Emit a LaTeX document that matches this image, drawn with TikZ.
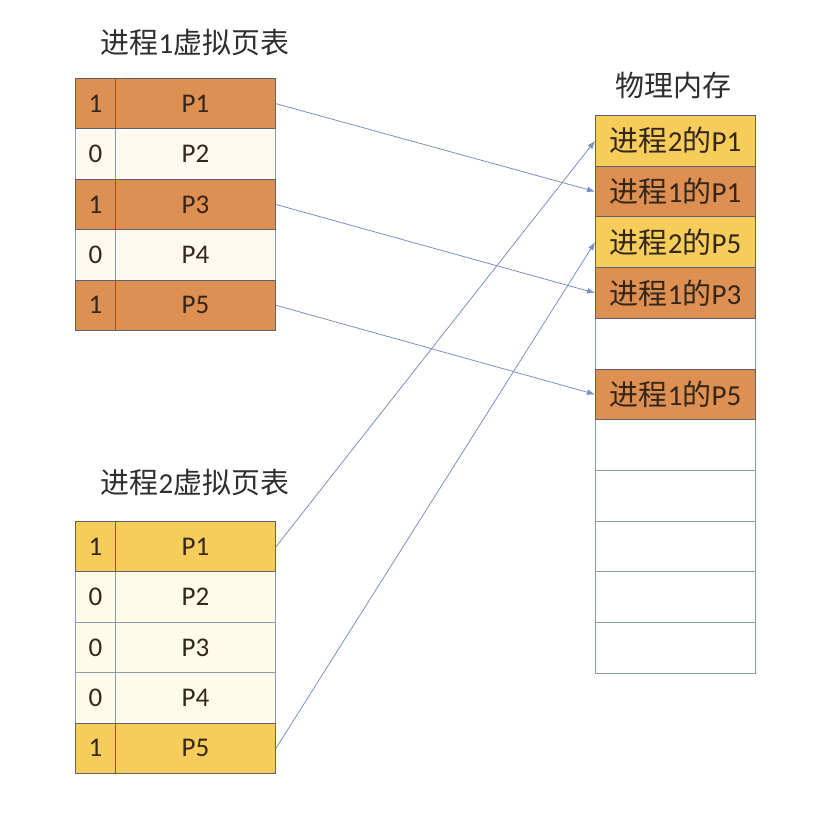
\documentclass[tikz,border=0pt]{standalone}
\usepackage{fontspec}
\setmainfont{Carlito}
\newfontfamily\cjk{Noto Sans CJK SC}
\newcommand{\zh}[1]{{\cjk #1}}
\usetikzlibrary{arrows.meta}
\definecolor{org}{HTML}{DE8F52}
\definecolor{yel}{HTML}{F6CD5A}
\definecolor{crm}{HTML}{FFFAF0}
\definecolor{crmb}{HTML}{FFFCE9}
\definecolor{bord}{HTML}{5C6272}
\definecolor{lbord}{HTML}{8C98B0}
\definecolor{arr}{HTML}{7B8FC4}
\definecolor{txt}{HTML}{33261A}
\definecolor{ttl}{HTML}{2E2E2E}
\tikzset{
  cell/.style={draw=bord, line width=1pt, minimum height=50.4pt, inner sep=0pt,
    anchor=north west, font=\fontsize{27}{31}\selectfont, text=txt},
  bitcell/.style={cell, minimum width=40pt},
  pgcell/.style={cell, minimum width=160pt},
  memcell/.style={cell, minimum width=160pt, minimum height=50.7pt,
    font=\fontsize{29}{33}\selectfont},
  light/.style={draw=lbord},
  ttlnode/.style={font=\fontsize{29}{33}\selectfont, text=ttl, inner sep=0pt},
  link/.style={draw=arr, line width=0.8pt, -{Latex[length=8pt,width=6pt]}}
}
\begin{document}
\begin{tikzpicture}[x=1pt,y=-1pt]
\useasboundingbox (0,0) rectangle (826,830);
% titles
\node[ttlnode] (title1) at (195,43) {\zh{进程}1\zh{虚拟页表}};
\node[ttlnode] (title2) at (195,483) {\zh{进程}2\zh{虚拟页表}};
\node[ttlnode] (title3) at (673,86) {\zh{物理内存}};
% table 1 light rows
\node[bitcell, light, fill=crm] (a2b) at (75,128.4) {0};
\node[pgcell, light, fill=crm] (a2p) at (115,128.4) {P2};
\node[bitcell, light, fill=crm] (a4b) at (75,229.2) {0};
\node[pgcell, light, fill=crm] (a4p) at (115,229.2) {P4};
% table 1 orange rows
\node[bitcell, fill=org] (a1b) at (75,78) {1};
\node[pgcell, fill=org] (a1p) at (115,78) {P1};
\node[bitcell, fill=org] (a3b) at (75,178.8) {1};
\node[pgcell, fill=org] (a3p) at (115,178.8) {P3};
\node[bitcell, fill=org] (a5b) at (75,279.6) {1};
\node[pgcell, fill=org] (a5p) at (115,279.6) {P5};
% table 2 light rows
\node[bitcell, light, fill=crmb] (b2b) at (75,571.4) {0};
\node[pgcell, light, fill=crmb] (b2p) at (115,571.4) {P2};
\node[bitcell, light, fill=crmb] (b3b) at (75,621.8) {0};
\node[pgcell, light, fill=crmb] (b3p) at (115,621.8) {P3};
\node[bitcell, light, fill=crmb] (b4b) at (75,672.2) {0};
\node[pgcell, light, fill=crmb] (b4p) at (115,672.2) {P4};
% table 2 yellow rows
\node[bitcell, fill=yel] (b1b) at (75,521) {1};
\node[pgcell, fill=yel] (b1p) at (115,521) {P1};
\node[bitcell, fill=yel] (b5b) at (75,722.6) {1};
\node[pgcell, fill=yel] (b5p) at (115,722.6) {P5};
% memory empty rows
\node[memcell, light, fill=white] (m5) at (595,317.8) {};
\node[memcell, light, fill=white] (m7) at (595,419.2) {};
\node[memcell, light, fill=white] (m8) at (595,469.9) {};
\node[memcell, light, fill=white] (m9) at (595,520.6) {};
\node[memcell, light, fill=white] (m10) at (595,571.3) {};
\node[memcell, light, fill=white] (m11) at (595,622) {};
% memory used rows
\node[memcell, fill=yel] (m1) at (595,115) {\zh{进程}2\zh{的}P1};
\node[memcell, fill=org] (m2) at (595,165.7) {\zh{进程}1\zh{的}P1};
\node[memcell, fill=yel] (m3) at (595,216.4) {\zh{进程}2\zh{的}P5};
\node[memcell, fill=org] (m4) at (595,267.1) {\zh{进程}1\zh{的}P3};
\node[memcell, fill=org] (m6) at (595,368.5) {\zh{进程}1\zh{的}P5};
% links
\draw[link] (a1p.east) -- (m2.west);
\draw[link] (a3p.east) -- (m4.west);
\draw[link] (a5p.east) -- (m6.west);
\draw[link] (b1p.east) -- (m1.west);
\draw[link] (b5p.east) -- (m3.west);
\end{tikzpicture}
\end{document}
